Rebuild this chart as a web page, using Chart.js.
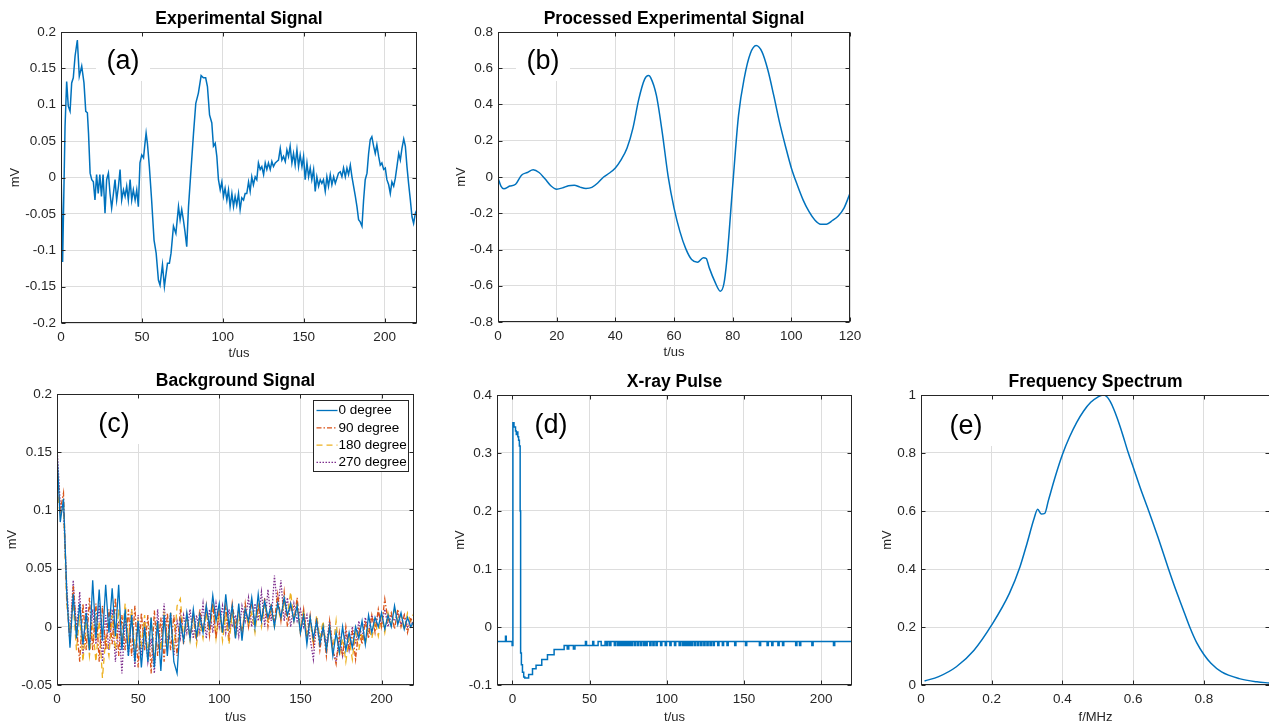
<!DOCTYPE html>
<html>
<head>
<meta charset="utf-8">
<script src="https://cdn.jsdelivr.net/npm/chart.js@4.4.1/dist/chart.umd.min.js"></script>
<style>
  html, body { margin: 0; padding: 0; background: #fff; overflow: hidden; width: 1269px; height: 723px; }
  .panel { position: absolute; }
</style>
</head>
<body>
<div class="panel" id="pa"><canvas id="ca"></canvas></div>
<div class="panel" id="pb"><canvas id="cb"></canvas></div>
<div class="panel" id="pc"><canvas id="cc"></canvas></div>
<div class="panel" id="pd"><canvas id="cd"></canvas></div>
<div class="panel" id="pe"><canvas id="ce"></canvas></div>
<script>
// (a) Experimental Signal
const tA = [0, 1, 2.5, 3.5, 4.5, 5.6, 6.6, 7.6, 8.7, 10.1, 11.3, 12.8, 14.2, 15.3, 16.3, 17, 18, 19, 20, 21,
  22, 23, 24, 25, 26, 27.2, 28.2, 29.3, 30.3, 31.3, 32.4, 33.4, 34.4, 35.5, 36.5, 37.5, 38.6, 39.6, 40.6, 41.6,
  42.7, 43.7, 44.7, 45.8, 46.8, 47.8, 48.8, 49.9, 51, 51.9, 52.6, 53.4, 54.6, 56, 57.5, 58.8, 60.2, 61.2, 62.7, 63.9,
  64.7, 65.8, 67, 68, 69.5, 71, 72.6, 73.6, 74.6, 75.6, 76.6, 77.7, 78.8, 80.2, 81.9, 83.3, 84.9, 86.6, 88, 89.4,
  90.5, 91.8, 93.2, 94.2, 95.3, 96.3, 97.3, 98.4, 99.4, 100.4, 101.4, 102.5, 103.5, 104.5, 105.6, 106.6, 107.6, 108.6, 109.7, 110.7,
  111.7, 112.8, 113.8, 114.8, 115.9, 116.9, 117.9, 118.9, 120, 121, 122, 123.1, 124.1, 125.2, 126.2, 127.2, 128.2, 129.3, 130.3, 131.3,
  132.4, 133.4, 134.4, 135.5, 136.5, 137.5, 138.6, 139.6, 140.6, 141.6, 142.7, 143.7, 144.7, 145.8, 146.8, 147.8, 148.9, 149.9, 150.9, 152,
  153, 154, 155, 156.1, 157.1, 158.1, 159.2, 160.2, 161.2, 162.2, 163.3, 164.3, 165.3, 166.4, 167.4, 168.5, 169.5, 170.5, 171.5, 172.6,
  173.6, 174.6, 175.7, 176.7, 177.7, 178.8, 179.8, 180.8, 181.9, 182.9, 183.9, 184.9, 186, 187, 188, 189.1, 190.1, 191.1, 192.1, 193.2,
  194.2, 195.2, 196.3, 197.3, 198.3, 199.4, 200.4, 201.4, 202.5, 203.5, 204.5, 205.6, 206.6, 207.6, 208.7, 209.7, 210.7, 211.8, 212.8, 213.8,
  214.8, 215.9, 216.9, 217.9, 219, 220];
const vA = [0.015, -0.116, 0.070, 0.132, 0.098, 0.091, 0.130, 0.137, 0.167, 0.189, 0.139, 0.153, 0.130, 0.091, 0.089, 0.061, 0.006, -0.003, -0.006, -0.031,
  0.004, -0.022, 0.004, -0.026, 0.004, -0.049, -0.003, 0.006, -0.022, -0.042, -0.022, -0.003, -0.031, -0.012, 0.011, -0.031, -0.017, -0.026, -0.012, -0.031,
  -0.003, -0.031, -0.017, -0.031, -0.017, -0.040, 0.020, 0.031, 0.027, 0.047, 0.061, 0.047, 0.015, -0.031, -0.086, -0.104, -0.141, -0.148, -0.120, -0.150,
  -0.136, -0.118, -0.118, -0.104, -0.067, -0.077, -0.040, -0.058, -0.044, -0.058, -0.074, -0.095, -0.040, 0.006, 0.061, 0.102, 0.116, 0.140, 0.137, 0.137,
  0.125, 0.086, 0.075, 0.043, 0.047, 0.029, -0.003, -0.017, -0.006, -0.026, -0.015, -0.031, -0.017, -0.040, -0.022, -0.040, -0.026, -0.038, -0.022, -0.044,
  -0.028, -0.031, -0.022, -0.022, -0.006, -0.019, 0.001, -0.010, 0.001, -0.003, 0.020, 0.011, 0.015, 0.004, 0.020, 0.011, 0.020, 0.011, 0.022, 0.015,
  0.020, 0.022, 0.024, 0.040, 0.024, 0.029, 0.022, 0.038, 0.029, 0.043, 0.020, 0.033, 0.017, 0.038, 0.015, 0.031, 0.015, 0.029, -0.003, 0.020,
  0.001, 0.013, -0.003, 0.011, -0.019, 0.001, -0.012, -0.003, -0.008, -0.003, -0.019, 0.001, -0.012, 0.004, -0.010, 0.001, -0.008, -0.001, 0.006, 0.008,
  0.001, 0.013, 0.001, 0.013, 0.004, 0.017, 0.001, -0.012, -0.026, -0.040, -0.058, -0.061, -0.067, -0.031, -0.003, 0.006, 0.033, 0.052, 0.056, 0.043,
  0.033, 0.045, 0.029, 0.017, 0.020, 0.011, 0.013, -0.003, -0.010, -0.022, -0.006, -0.012, -0.001, 0.015, 0.033, 0.024, 0.040, 0.053, 0.043, 0.015,
  -0.008, -0.031, -0.054, -0.063, -0.049, -0.044];

// (b) Processed Experimental Signal
const tB = [0, 1, 2, 4, 6, 8, 10, 12, 14, 16, 18, 20, 22, 24, 26, 28, 30, 32, 34, 36,
  38, 40, 42, 44, 46, 48, 50, 51.3, 52, 54, 56, 58, 60, 62, 64, 66, 68, 70, 71, 72,
  74, 75.8, 77, 78, 80, 82, 84, 86, 88, 90, 92, 94, 96, 98, 100, 102, 104, 106, 108, 110,
  112, 114, 116, 118, 120];
const vB = [-0.005, -0.05, -0.065, -0.05, -0.04, 0.01, 0.025, 0.04, 0.025, -0.01, -0.048, -0.067, -0.06, -0.048, -0.045, -0.056, -0.063, -0.057, -0.033, 0,
  0.022, 0.05, 0.096, 0.16, 0.27, 0.43, 0.54, 0.56, 0.55, 0.45, 0.245, 0.004, -0.17, -0.30, -0.395, -0.455, -0.47, -0.445, -0.45, -0.50,
  -0.58, -0.63, -0.59, -0.46, -0.05, 0.34, 0.55, 0.68, 0.725, 0.69, 0.59, 0.45, 0.30, 0.17, 0.05, -0.043, -0.126, -0.19, -0.237, -0.26,
  -0.26, -0.24, -0.215, -0.17, -0.09];

// (c) Background Signal
const seriesC = ['0 degree', '90 degree', '180 degree', '270 degree'];
const tC = [0, 2, 4, 6, 8, 10, 12, 14, 16, 18, 20, 22, 24, 26, 28, 30, 32, 34, 36, 38,
  40, 42, 44, 46, 48, 50, 52, 54, 56, 58, 60, 62, 64, 66, 68, 70, 72, 74, 76, 78,
  80, 82, 84, 86, 88, 90, 92, 94, 96, 98, 100, 102, 104, 106, 108, 110, 112, 114, 116, 118,
  120, 122, 124, 126, 128, 130, 132, 134, 136, 138, 140, 142, 144, 146, 148, 150, 152, 154, 156, 158,
  160, 162, 164, 166, 168, 170, 172, 174, 176, 178, 180, 182, 184, 186, 188, 190, 192, 194, 196, 198,
  200, 202, 204, 206, 208, 210, 212, 214, 216, 218, 220];
const c0 = [0.15, 0.09, 0.11, 0.03, -0.018, 0.028, -0.01, 0.02, -0.015, 0.012, -0.02, 0.04, -0.01, 0.032, -0.012, 0.036, -0.005, 0.033, -0.008, 0.036,
  -0.02, 0.015, -0.025, 0.01, -0.03, 0.005, -0.035, 0.0, -0.03, 0.008, -0.035, 0.005, -0.038, 0.01, -0.025, 0.012, -0.03, -0.04, 0.005, -0.012,
  0.012, -0.01, 0.015, -0.008, 0.01, -0.005, 0.018, 0.0, 0.027, 0.005, 0.02, -0.005, 0.028, 0.0, 0.018, -0.01, 0.02, -0.012, 0.015, 0.005,
  0.025, 0.0, 0.028, 0.005, 0.022, 0.008, 0.018, 0.0, 0.02, 0.008, 0.025, 0.01, 0.02, 0.005, 0.018, -0.005, 0.01, -0.015, 0.008, -0.01,
  0.005, -0.015, 0.0, -0.02, 0.0, -0.025, -0.005, -0.022, 0.0, -0.02, -0.005, -0.018, 0.0, -0.01, 0.005, -0.015, 0.01, -0.005, 0.008, 0.0,
  0.012, -0.002, 0.01, 0.0, 0.018, 0.002, 0.012, -0.002, 0.008, 0.0, 0.005];
const c90 = [0.14, 0.1, 0.115, 0.025, -0.015, 0.035, 0.0, -0.03, 0.02, -0.02, 0.025, -0.02, 0.02, -0.03, 0.018, -0.02, 0.015, -0.015, 0.025, -0.025,
  0.01, -0.02, 0.015, -0.025, 0.018, -0.035, 0.012, -0.02, 0.01, -0.04, 0.014, -0.025, 0.008, -0.03, 0.012, -0.02, 0.01, -0.025, 0.015, -0.015,
  0.01, -0.01, 0.012, -0.012, 0.015, -0.005, 0.018, -0.008, 0.02, -0.01, 0.015, -0.005, 0.018, -0.008, 0.02, 0.0, 0.015, -0.008, 0.02, 0.0,
  0.022, 0.002, 0.018, 0.005, 0.025, 0.0, 0.02, 0.005, 0.028, 0.005, 0.03, 0.0, 0.02, 0.005, 0.025, -0.005, 0.015, -0.01, 0.01, -0.015,
  0.008, -0.02, 0.0, -0.025, 0.005, -0.02, -0.032, -0.005, -0.025, 0.0, -0.02, -0.005, -0.028, 0.0, -0.015, 0.005, -0.01, 0.01, -0.005, 0.015,
  0.0, 0.024, 0.005, 0.012, -0.002, 0.015, 0.0, 0.01, -0.005, 0.008, 0.0];
const c180 = [0.12, 0.095, 0.105, 0.02, -0.005, 0.02, -0.02, 0.01, -0.03, 0.005, -0.025, 0.0, -0.03, 0.005, -0.044, -0.01, -0.025, 0.01, -0.02, 0.015,
  -0.015, 0.02, -0.01, 0.015, -0.02, 0.005, -0.015, 0.01, -0.025, 0.008, -0.03, 0.005, -0.02, 0.01, -0.015, 0.012, -0.02, 0.018, 0.024, -0.01,
  0.01, -0.012, 0.008, -0.015, 0.005, -0.01, 0.012, -0.005, 0.02, -0.01, 0.015, -0.012, 0.01, -0.015, 0.012, -0.01, 0.01, -0.005, 0.015, 0.0,
  0.012, -0.005, 0.018, 0.0, 0.02, 0.005, 0.015, 0.0, 0.018, 0.005, 0.022, 0.01, 0.03, 0.005, 0.02, -0.005, 0.015, -0.01, 0.005, -0.015,
  0.01, -0.01, 0.005, -0.02, 0.0, -0.02, 0.005, -0.025, -0.01, -0.03, -0.01, -0.028, -0.005, -0.02, -0.005, -0.015, 0.0, -0.01, 0.005, -0.008,
  0.01, -0.005, 0.012, 0.0, 0.015, 0.005, 0.01, -0.003, 0.012, 0.005, 0.012];
const c270 = [0.155, 0.105, 0.1, 0.035, -0.01, 0.04, -0.005, 0.03, -0.025, 0.02, -0.02, 0.015, -0.015, 0.02, -0.03, 0.01, -0.02, 0.015, -0.03, 0.005,
  -0.04, 0.008, -0.025, 0.015, -0.035, 0.01, -0.025, 0.005, -0.03, -0.01, -0.04, 0.015, -0.02, 0.02, -0.015, 0.012, -0.025, 0.005, -0.01, 0.01,
  -0.005, 0.015, -0.01, 0.01, -0.005, 0.02, -0.01, 0.015, -0.005, 0.02, 0.0, 0.018, -0.005, 0.015, 0.0, 0.01, -0.008, 0.018, 0.005, 0.025,
  0.0, 0.02, 0.005, 0.03, 0.0, 0.032, 0.005, 0.044, 0.015, 0.04, 0.005, 0.025, 0.0, 0.02, 0.005, 0.015, 0.0, 0.01, -0.01, -0.028,
  0.005, -0.01, 0.0, -0.015, 0.005, -0.02, -0.03, -0.01, -0.025, -0.005, -0.02, 0.0, -0.015, 0.005, -0.01, 0.008, -0.005, 0.01, 0.0, 0.012,
  0.002, 0.015, 0.0, 0.01, 0.005, 0.012, 0.002, 0.01, 0.0, 0.005, 0.0];

// (d) X-ray Pulse (sample-and-hold levels)
const tD = [-10, -4.5, -4, -0.2, 0.3, 1, 2, 2.5, 3, 3.5, 4, 4.5, 5, 5.3, 5.8, 6.5, 7.3, 8, 10.5, 13,
  15.3, 19, 22.7, 27, 33.5, 35.5, 36.5, 39.5, 40.5, 47.3, 48, 52, 52.7, 55.5, 57.5, 60,
  61, 61.8, 63, 63.8, 66, 66.8, 68, 68.8, 69.5, 70.3, 71, 71.8, 72.5, 73.3, 74, 74.8, 75.5, 76.3, 77, 77.8,
  79, 79.8, 81, 81.8, 83, 83.8, 85, 85.8, 86.5, 87.3, 89, 89.8, 91, 91.8, 93, 93.8, 96, 96.8, 99, 99.8,
  102, 102.8, 105, 105.8, 108, 108.8, 110, 110.8, 111.5, 112.3, 113, 113.8, 114.5, 115.3, 116, 116.8, 118, 118.8, 120, 120.8,
  122, 122.8, 124, 124.8, 126, 126.8, 128, 128.8, 130, 130.8, 133, 133.8, 136, 136.8, 139, 139.8, 144, 144.8, 151, 151.8,
  160, 160.8, 165, 165.8, 168, 168.8, 172, 172.8, 175, 175.8, 183.5, 184.3, 186, 186.8, 194, 194.8, 208, 208.8, 220];
const vD = [-0.025, -0.016, -0.025, -0.032, 0.352, 0.345, 0.338, 0.332, 0.336, 0.328, 0.322, 0.312, 0.2, -0.045, -0.065, -0.078, -0.086, -0.088, -0.082, -0.072,
  -0.066, -0.056, -0.048, -0.039, -0.032, -0.038, -0.032, -0.038, -0.032, -0.025, -0.032, -0.025, -0.032, -0.025, -0.032, -0.025,
  -0.032, -0.025, -0.032, -0.025, -0.032, -0.025, -0.032, -0.025, -0.032, -0.025, -0.032, -0.025, -0.032, -0.025, -0.032, -0.025, -0.032, -0.025, -0.032, -0.025,
  -0.032, -0.025, -0.032, -0.025, -0.032, -0.025, -0.032, -0.025, -0.032, -0.025, -0.032, -0.025, -0.032, -0.025, -0.032, -0.025, -0.032, -0.025, -0.032, -0.025,
  -0.032, -0.025, -0.032, -0.025, -0.032, -0.025, -0.032, -0.025, -0.032, -0.025, -0.032, -0.025, -0.032, -0.025, -0.032, -0.025, -0.032, -0.025, -0.032, -0.025,
  -0.032, -0.025, -0.032, -0.025, -0.032, -0.025, -0.032, -0.025, -0.032, -0.025, -0.032, -0.025, -0.032, -0.025, -0.032, -0.025, -0.032, -0.025, -0.032, -0.025,
  -0.032, -0.025, -0.032, -0.025, -0.032, -0.025, -0.032, -0.025, -0.032, -0.025, -0.032, -0.025, -0.032, -0.025, -0.032, -0.025, -0.032, -0.025, -0.025];

// (e) Frequency Spectrum
const fE = [0.01, 0.05, 0.1, 0.15, 0.2, 0.25, 0.28, 0.3, 0.32, 0.33, 0.34, 0.35, 0.36, 0.38, 0.4, 0.42, 0.44, 0.46, 0.48, 0.5,
  0.515, 0.525, 0.535, 0.545, 0.555, 0.57, 0.585, 0.6, 0.62, 0.644, 0.67, 0.7, 0.72, 0.74, 0.76, 0.78, 0.8, 0.82, 0.85, 0.9,
  0.95, 0.985];
const vE = [0.014, 0.029, 0.063, 0.12, 0.207, 0.316, 0.408, 0.489, 0.575, 0.606, 0.59, 0.592, 0.635, 0.72, 0.795, 0.855, 0.905, 0.945, 0.975, 0.993,
  1.0, 0.995, 0.978, 0.952, 0.92, 0.865, 0.805, 0.752, 0.68, 0.6, 0.51, 0.40, 0.33, 0.265, 0.20, 0.145, 0.105, 0.075, 0.045, 0.022,
  0.011, 0.007];

const FONT = "'Liberation Sans', Arial, Helvetica, sans-serif";
const INK = '#262626';
const BLUE = '#0072BD';
Chart.defaults.font.family = FONT;
Chart.defaults.color = INK;
Chart.defaults.animation = false;

function pts(xs, ys) {
  return xs.map((x, i) => ({ x: x, y: ys[i] }));
}

// matlab-like axes: title, white-backed panel label, box with inward ticks, inset legend
const matlabAxes = {
  id: 'matlabAxes',
  beforeDatasetsDraw(chart, args, o) {
    const a = chart.chartArea, ctx = chart.ctx;
    ctx.save();
    ctx.fillStyle = '#fff';
    ctx.fillRect(a.left + o.lx - 27, a.top + 1, 54, o.ly + 18);
    ctx.restore();
  },
  afterDatasetsDraw(chart, args, o) {
    const a = chart.chartArea, ctx = chart.ctx;
    ctx.save();
    ctx.textAlign = 'center';
    ctx.textBaseline = 'middle';
    ctx.fillStyle = '#000';
    ctx.font = 'bold 17.5px ' + FONT;
    ctx.fillText(o.title, (a.left + a.right) / 2, a.top - 13);
    ctx.font = '27px ' + FONT;
    ctx.fillText(o.label, a.left + o.lx, a.top + o.ly);

    const L = Math.round(a.left) + 0.5, T = Math.round(a.top) + 0.5;
    const R = Math.round(a.right) - 0.5, B = Math.round(a.bottom) - 0.5;
    ctx.strokeStyle = INK;
    ctx.lineWidth = 1;
    ctx.strokeRect(L, T, R - L, B - T);
    const xs = chart.scales.x, ys = chart.scales.y;
    ctx.beginPath();
    xs.ticks.forEach(t => {
      const p = Math.round(xs.getPixelForValue(t.value)) + 0.5;
      ctx.moveTo(p, B); ctx.lineTo(p, B - 4);
      ctx.moveTo(p, T); ctx.lineTo(p, T + 4);
    });
    ys.ticks.forEach(t => {
      const p = Math.round(ys.getPixelForValue(t.value)) + 0.5;
      ctx.moveTo(L, p); ctx.lineTo(L + 4, p);
      ctx.moveTo(R, p); ctx.lineTo(R - 4, p);
    });
    ctx.stroke();

    if (o.legend) {
      const w = 95, h = 71;
      const bx = Math.round(a.right - 6 - w) + 0.5, by = Math.round(a.top + 6) + 0.5;
      ctx.fillStyle = '#fff';
      ctx.fillRect(bx, by, w, h);
      ctx.strokeStyle = INK;
      ctx.lineWidth = 1;
      ctx.strokeRect(bx, by, w, h);
      ctx.font = '13.5px ' + FONT;
      ctx.textAlign = 'left';
      chart.data.datasets.forEach((ds, i) => {
        const y = by + 10 + i * 17.3;
        ctx.strokeStyle = ds.borderColor;
        ctx.lineWidth = ds.borderWidth;
        ctx.setLineDash(ds.borderDash || []);
        ctx.beginPath();
        ctx.moveTo(bx + 3, y); ctx.lineTo(bx + 24, y);
        ctx.stroke();
        ctx.setLineDash([]);
        ctx.fillStyle = '#000';
        ctx.fillText(ds.label, bx + 25, y);
      });
    }
    ctx.restore();
  }
};

function fmt(v) {
  return String(+v.toFixed(3));
}

function makePanel(p, datasets) {
  const box = document.getElementById(p.box);
  box.style.left = (p.l - p.yW) + 'px';
  box.style.top = (p.t - 30) + 'px';
  box.style.width = (p.r - p.l + 2 * p.yW) + 'px';
  box.style.height = (p.b - p.t + 70) + 'px';
  new Chart(document.getElementById(p.canvas), {
    type: 'line',
    data: { datasets: datasets },
    plugins: [matlabAxes],
    options: {
      responsive: true,
      maintainAspectRatio: false,
      layout: { padding: { top: 30, right: p.yW, left: 0, bottom: 0 } },
      elements: { point: { radius: 0 }, line: { borderWidth: 1.5 } },
      plugins: {
        legend: { display: false },
        tooltip: { enabled: false },
        title: { display: false },
        matlabAxes: { title: p.title, label: p.label, lx: p.lx, ly: p.ly, legend: !!p.legend }
      },
      scales: {
        x: {
          type: 'linear',
          min: p.xmin, max: p.xmax,
          afterFit: s => { s.height = 40; },
          grid: { color: '#dddddd', drawTicks: false },
          border: { display: false },
          ticks: { stepSize: p.xstep, includeBounds: false, padding: 6, autoSkip: false, maxRotation: 0,
                   font: { size: 13.5 }, color: INK, callback: fmt },
          title: { display: true, text: p.xTitle, font: { size: 13 }, color: INK,
                   padding: { top: 0, bottom: p.xPad } }
        },
        y: {
          type: 'linear',
          min: p.ymin, max: p.ymax,
          afterFit: s => { s.width = p.yW; },
          grid: { color: '#dddddd', drawTicks: false },
          border: { display: false },
          ticks: { stepSize: p.ystep, includeBounds: false, padding: 5, autoSkip: false,
                   font: { size: 13.5 }, color: INK, callback: fmt },
          title: { display: true, text: 'mV', font: { size: 13 }, color: INK,
                   padding: { top: 0, bottom: 0 } }
        }
      }
    }
  });
}

makePanel({ box: 'pa', canvas: 'ca', l: 61, t: 32, r: 417, b: 323, yW: 53,
  xmin: 0, xmax: 220, xstep: 50, ymin: -0.2, ymax: 0.2, ystep: 0.05,
  xTitle: 't/us', xPad: 2.2, title: 'Experimental Signal', label: '(a)', lx: 62, ly: 30 },
  [{ label: 'signal', data: pts(tA, vA), borderColor: BLUE, borderWidth: 1.5, tension: 0 }]);

makePanel({ box: 'pb', canvas: 'cb', l: 498, t: 32, r: 850, b: 322, yW: 44,
  xmin: 0, xmax: 120, xstep: 20, ymin: -0.8, ymax: 0.8, ystep: 0.2,
  xTitle: 't/us', xPad: 2.2, title: 'Processed Experimental Signal', label: '(b)', lx: 45, ly: 30 },
  [{ label: 'processed', data: pts(tB, vB), borderColor: BLUE, borderWidth: 1.5, cubicInterpolationMode: 'monotone' }]);

makePanel({ box: 'pc', canvas: 'cc', l: 57, t: 394, r: 414, b: 685, yW: 52,
  xmin: 0, xmax: 220, xstep: 50, ymin: -0.05, ymax: 0.2, ystep: 0.05,
  xTitle: 't/us', xPad: 0.2, title: 'Background Signal', label: '(c)', lx: 57, ly: 31, legend: true },
  [
    { label: seriesC[0], data: pts(tC, c0), borderColor: '#0072BD', borderWidth: 1.3, tension: 0 },
    { label: seriesC[1], data: pts(tC, c90), borderColor: '#D95319', borderWidth: 1.3, borderDash: [5, 2, 1.5, 2], tension: 0 },
    { label: seriesC[2], data: pts(tC, c180), borderColor: '#EDB120', borderWidth: 1.3, borderDash: [6, 4], tension: 0 },
    { label: seriesC[3], data: pts(tC, c270), borderColor: '#7E2F8E', borderWidth: 1.3, borderDash: [1.5, 1.5], tension: 0 }
  ]);

makePanel({ box: 'pd', canvas: 'cd', l: 497, t: 395, r: 852, b: 685, yW: 44,
  xmin: -10, xmax: 220, xstep: 50, ymin: -0.1, ymax: 0.4, ystep: 0.1,
  xTitle: 't/us', xPad: 0.2, title: 'X-ray Pulse', label: '(d)', lx: 54, ly: 31 },
  [{ label: 'pulse', data: pts(tD, vD), borderColor: BLUE, borderWidth: 1.5, stepped: true }]);

makePanel({ box: 'pe', canvas: 'ce', l: 921, t: 395, r: 1270, b: 685, yW: 41,
  xmin: 0, xmax: 0.987, xstep: 0.2, ymin: 0, ymax: 1, ystep: 0.2,
  xTitle: 'f/MHz', xPad: 0.2, title: 'Frequency Spectrum', label: '(e)', lx: 45, ly: 32 },
  [{ label: 'spectrum', data: pts(fE, vE), borderColor: BLUE, borderWidth: 1.5, cubicInterpolationMode: 'monotone' }]);
</script>
</body>
</html>
